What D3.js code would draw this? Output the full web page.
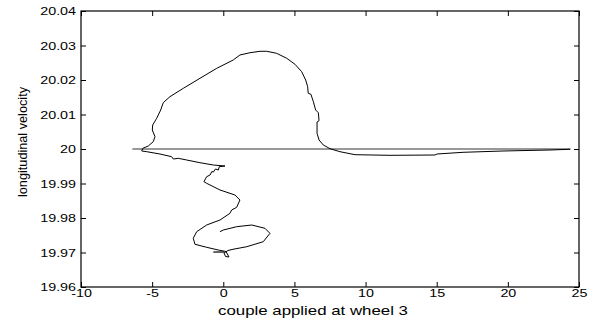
<!DOCTYPE html>
<html><head><meta charset="utf-8">
<script src="https://cdn.jsdelivr.net/npm/d3@7/dist/d3.min.js"></script>
<style>
html,body{margin:0;padding:0;background:#fff;}
svg{display:block;}
text{font-family:"Liberation Sans",Arial,Helvetica,sans-serif;fill:#000;}
</style></head>
<body>
<svg id="chart" width="591" height="324"></svg>
<script>
// Tick values
const xTicks = [-10, -5, 0, 5, 10, 15, 20, 25];
const xTickLabels = ["-10", "-5", "0", "5", "10", "15", "20", "25"];
const yTicks = [19.96, 19.97, 19.98, 19.99, 20, 20.01, 20.02, 20.03, 20.04];
const yTickLabels = ["19.96", "19.97", "19.98", "19.99", "20", "20.01", "20.02", "20.03", "20.04"];

// Reference horizontal line (longitudinal velocity = 20)
const refX = [-6.39, 24.41];
const refY = [20, 20];

// Main trajectory (couple applied at wheel 3, longitudinal velocity)
const trajX = [24.37, 22.96, 19.66, 16.85, 15.02, 14.88, 11.72, 9.26, 8.20, 7.50,
  7.03, 6.73, 6.59, 6.59, 6.73, 6.68, 6.49, 6.33, 6.16, 5.97,
  5.93, 5.79, 5.51, 5.04, 4.46, 3.75, 3.05, 2.58, 1.88, 1.17,
  0.70, -0.46, -1.64, -2.81, -3.75, -4.22, -4.40, -4.68, -4.96, -4.99,
  -4.80, -4.92, -5.27, -5.66, -5.73, -5.38, -4.45, -3.63, -3.51, -3.16,
  -2.57, -1.64, -0.70, 0.12, -0.28, -0.35, -0.55, -0.70, -0.80, -0.93,
  -1.17, -1.36, -1.17, -0.23, 0.82, 1.17, 0.94, 0.59, 0.47, -0.23,
  -1.17, -1.87, -2.11, -1.99, -1.17, -0.35, 0.19, 0.40, 0.16, 0.05,
  0.33, 0.68, 1.65, 2.81, 3.28, 2.93, 2.00, 0.94, 0.00, -0.23];
const trajY = [19.99991, 19.99971, 19.99942, 19.99904, 19.99855, 19.99826, 19.99817, 19.99835, 19.99922, 20.00009,
  20.00116, 20.00261, 20.00455, 20.00783, 20.00820, 20.01052, 20.01130, 20.01371, 20.01586, 20.01615,
  20.01806, 20.02000, 20.02241, 20.02455, 20.02629, 20.02774, 20.02832, 20.02832, 20.02791, 20.02725,
  20.02580, 20.02339, 20.02049, 20.01759, 20.01516, 20.01342, 20.01130, 20.00890, 20.00696, 20.00551,
  20.00357, 20.00212, 20.00087, 20.00020, 19.99942, 19.99922, 19.99855, 19.99777, 19.99710, 19.99730,
  19.99681, 19.99603, 19.99536, 19.99507, 19.99487, 19.99391, 19.99420, 19.99330, 19.99350, 19.99246,
  19.99197, 19.99052, 19.99006, 19.98812, 19.98667, 19.98522, 19.98310, 19.98232, 19.98136, 19.97942,
  19.97797, 19.97603, 19.97412, 19.97238, 19.97151, 19.97072, 19.97029, 19.96870, 19.96884, 19.96985,
  19.97058, 19.97093, 19.97168, 19.97313, 19.97556, 19.97701, 19.97797, 19.97748, 19.97652, 19.97603];

// Short tail near the bottom loop
const tailX = [-0.70, 0.05];
const tailY = [19.97014, 19.97014];

const svg = d3.select("#chart");
const m = {left: 81, right: 12, top: 11, bottom: 37};
const W = 591, H = 324;
const x = d3.scaleLinear().domain([-10, 25]).range([m.left, W - m.right]);
const y = d3.scaleLinear().domain([19.96, 20.04]).range([H - m.bottom, m.top]);

const tickLen = 5;
const xAxisB = d3.axisBottom(x).tickValues(xTicks).tickSizeInner(-tickLen).tickSizeOuter(0).tickPadding(2)
  .tickFormat((d, i) => xTickLabels[i]);
const xAxisT = d3.axisTop(x).tickValues(xTicks).tickSizeInner(-tickLen).tickSizeOuter(0).tickFormat("");
const yAxisL = d3.axisLeft(y).tickValues(yTicks).tickSizeInner(-tickLen).tickSizeOuter(0).tickPadding(5)
  .tickFormat((d, i) => yTickLabels[i]);
const yAxisR = d3.axisRight(y).tickValues(yTicks).tickSizeInner(-tickLen).tickSizeOuter(0).tickFormat("");

function styleAxis(g) {
  g.select(".domain").remove();
  g.selectAll(".tick line").attr("stroke", "#000").attr("stroke-width", 1);
  g.selectAll(".tick text").attr("font-size", 11).attr("font-family", "Liberation Sans, Arial, sans-serif").attr("fill", "#000");
}

const gxb = svg.append("g").attr("transform", `translate(0,${H - m.bottom})`).call(xAxisB).call(styleAxis);
svg.append("g").attr("transform", `translate(0,${m.top})`).call(xAxisT).call(styleAxis);
const gyl = svg.append("g").attr("transform", `translate(${m.left},0)`).call(yAxisL).call(styleAxis);
svg.append("g").attr("transform", `translate(${W - m.right},0)`).call(yAxisR).call(styleAxis);

// stretch tick labels horizontally (wide rendering in reference)
[gxb, gyl].forEach(g => g.selectAll(".tick text").each(function() {
  const len = this.getComputedTextLength();
  d3.select(this).attr("textLength", len * 1.3).attr("lengthAdjust", "spacingAndGlyphs");
}));

// frame
svg.append("rect").attr("x", m.left).attr("y", m.top)
  .attr("width", W - m.right - m.left).attr("height", H - m.bottom - m.top)
  .attr("fill", "none").attr("stroke", "#000").attr("stroke-width", 1.2);

const line = d3.line().x(d => x(d[0])).y(d => y(d[1]));

svg.append("path").datum(d3.zip(refX, refY)).attr("d", line)
  .attr("fill", "none").attr("stroke", "#333").attr("stroke-width", 1);
svg.append("path").datum(d3.zip(trajX, trajY)).attr("d", line)
  .attr("fill", "none").attr("stroke", "#000").attr("stroke-width", 1).attr("stroke-linejoin", "round");
svg.append("path").datum(d3.zip(tailX, tailY)).attr("d", line)
  .attr("fill", "none").attr("stroke", "#000").attr("stroke-width", 1.2);

// axis titles
svg.append("text").attr("x", 313).attr("y", 315).attr("text-anchor", "middle")
  .attr("font-size", 13).attr("textLength", 190).attr("lengthAdjust", "spacingAndGlyphs")
  .text("couple applied at wheel 3");
svg.append("text").attr("transform", "translate(27,142) rotate(-90)").attr("text-anchor", "middle")
  .attr("font-size", 12).attr("textLength", 110).attr("lengthAdjust", "spacingAndGlyphs")
  .text("longitudinal velocity");
</script>
</body></html>
